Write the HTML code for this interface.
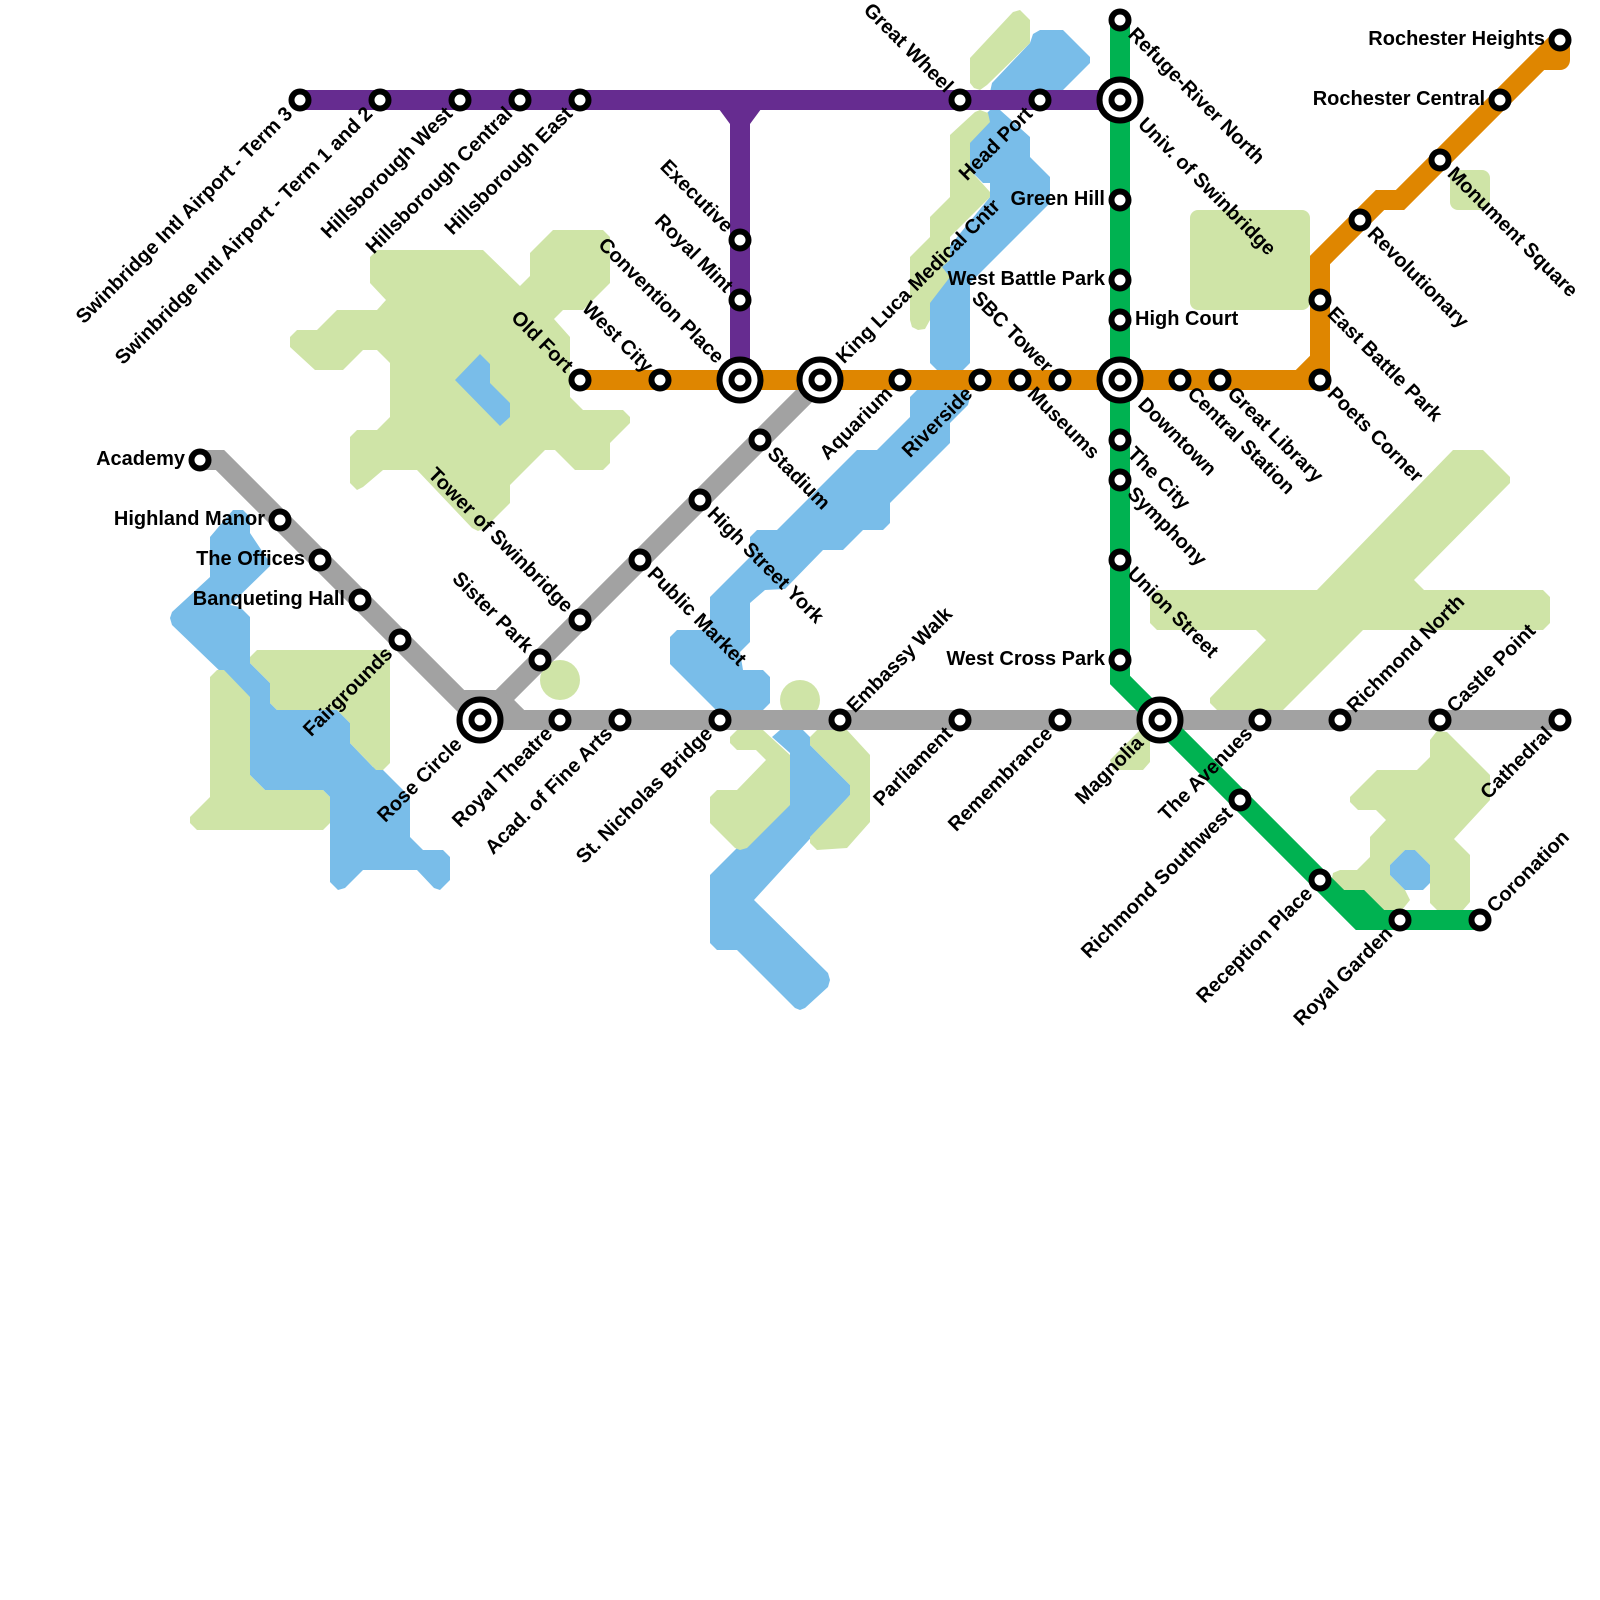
<!DOCTYPE html>
<html><head><meta charset="utf-8"><title>Swinbridge Metro Map</title>
<style>
html,body{margin:0;padding:0;background:#fff}
svg{display:block}
.p{fill:#cfe4a7}.w{fill:#79bde9}
.l{fill:none;stroke-width:20;stroke-linejoin:miter}
.s{fill:#fff;stroke:#000;stroke-width:6}
text{font-family:"Liberation Sans",sans-serif;font-weight:bold;font-size:20px;fill:#000}
.e{text-anchor:end}
</style></head><body>
<svg xmlns="http://www.w3.org/2000/svg" width="1600" height="1600" viewBox="0 0 1600 1600">
<rect width="1600" height="1600" fill="#fff"/>
<!-- water -->
<polygon class="w" points="233,510 243,510 250,517 250,533 270,563 270,566 230,605 240,607 250,617 250,663 270,683 270,703 277,710 337,710 350,723 350,743 373,767 383,770 410,797 410,837 423,850 443,850 450,857 450,880 440,890 434,888 417,870 363,870 345,888 338,890 330,882 330,797 323,790 265,790 250,775 250,700 172,625 170,618 172,612 210,577 210,537"/>
<polygon class="w" points="917,390 967,390 970,397 968,405 950,423 950,443 890,503 890,523 883,530 863,530 843,550 823,550 785,589 765,590 750,603 750,642 740,652 743,670 763,670 770,677 770,703 763,710 716,710 670,664 670,637 677,630 710,630 710,597 750,557 750,537 757,530 777,530 857,450 877,450 910,417 910,397"/>
<polygon class="w" points="772,737 780,730 803,730 810,737 810,745 850,785 850,795 754,900 828,973 830,980 828,987 805,1008 800,1010 795,1008 737,950 717,950 710,943 710,875 790,795 790,753"/>
<polygon class="w" points="992,83 1030,43 1033,34 1040,30 1063,30 1090,57 1090,63 1063,90 1060,100 997,100 990,92"/>
<polygon class="w" points="990,110 1000,110 1030,137 1030,157 1050,177 1050,203 970,283 970,363 963,370 937,370 930,363 930,270 990,197 990,183 983,183 970,170 970,130"/>
<!-- parks -->
<polygon class="p" points="377,250 483,250 520,286 530,276 530,253 553,230 603,230 610,237 610,283 583,310 563,310 554,319 570,337 570,397 583,410 623,410 630,417 630,423 610,443 610,463 603,470 575,470 555,450 545,450 510,485 510,503 485,528 478,531 472,528 417,470 383,470 363,487 357,490 350,483 350,437 357,430 377,430 390,417 390,363 377,350 363,350 343,370 315,370 290,347 290,337 297,330 317,330 337,310 377,310 386,300 370,283 370,257"/>
<polygon class="p" points="210,677 217,670 224,670 250,697 250,775 265,790 323,790 330,797 330,823 323,830 197,830 190,823 190,817 210,797"/>
<polygon class="p" points="250,657 257,650 390,650 390,763 383,770 376,770 350,743 350,723 337,710 277,710 270,703 270,683 250,663"/>
<circle class="p" cx="560" cy="680" r="20"/>
<circle class="p" cx="800" cy="700" r="20"/>
<polygon class="p" points="737,730 763,730 790,755 790,805 747,848 740,850 735,848 710,823 710,797 717,790 737,790 766,760 756,750 737,750 730,743 730,737"/>
<polygon class="p" points="810,737 817,730 847,730 870,755 870,822 847,848 817,850 810,843 810,837 850,795 850,785 810,745"/>
<polygon class="p" points="970,58 1013,12 1020,10 1030,20 1030,43 987,85 980,90 974,88 970,83"/>
<polygon class="p" points="950,135 975,112 980,110 988,113 990,122 970,143 970,170 990,192 990,197 950,237 950,260 942,267 950,277 930,303 930,320 925,329 918,330 912,327 910,320 910,257 930,237 930,217 950,197"/>
<rect class="p" x="1190" y="210" width="120" height="100" rx="8"/>
<rect class="p" x="1450" y="170" width="40" height="40" rx="8"/>
<polygon class="p" points="1150,597 1157,590 1317,590 1453,450 1483,450 1510,477 1510,483 1414,580 1424,590 1543,590 1550,597 1550,623 1543,630 1363,630 1273,720 1217,710 1210,703 1210,698 1266,640 1256,630 1157,630 1150,623"/>
<polygon class="p" points="1110,760 1140,730 1150,730 1150,762 1143,770 1113,770"/>
<polygon class="p" points="1430,740 1437,731 1447,732 1490,775 1490,800 1454,839 1470,855 1470,902 1463,910 1437,910 1430,903 1430,865 1415,850 1405,850 1390,865 1390,875 1405,890 1410,900 1402,910 1383,910 1363,890 1343,890 1332,878 1333,873 1340,870 1357,870 1370,857 1370,837 1386,820 1376,810 1358,810 1350,802 1350,797 1377,770 1417,770 1430,757"/>
<!-- lakes -->
<polygon class="w" points="455,380 480,354 490,364 490,383 510,403 510,417 500,426"/>
<polygon class="w" points="1390,865 1405,850 1415,850 1430,865 1430,883 1423,890 1405,890 1390,875"/>
<!-- lines -->
<g class="l" stroke="#a2a2a2">
<polyline class="l" points="200,460 220,460 480,720 1560,720"/>
<polyline class="l" points="820,380 500,700 460,700"/>
<polyline class="l" points="500,700 520,720"/>
</g>
<g stroke="#00b251">
<polyline class="l" points="1120,20 1120,680 1160,720 1360,920 1480,920"/>
<polyline class="l" points="1340,900 1360,900 1380,920"/>
</g>
<polyline class="l" stroke="#662c90" points="300,100 1120,100"/>
<polyline class="l" stroke="#662c90" points="740,100 740,380"/>
<polygon fill="#662c90" points="716,105 764,105 750,124 730,124"/>
<g stroke="#df8600">
<polyline class="l" points="580,380 1320,380 1320,350"/>
<polyline class="l" points="1300,380 1320,360 1320,260 1380,200 1400,200 1560,40"/>
<polyline class="l" style="stroke-linejoin:round" points="1540,60 1560,60 1560,40"/>
</g>
<!-- stations -->
<g>
<circle class="s" cx="300" cy="100" r="8.5"/><circle class="s" cx="380" cy="100" r="8.5"/><circle class="s" cx="460" cy="100" r="8.5"/><circle class="s" cx="520" cy="100" r="8.5"/><circle class="s" cx="580" cy="100" r="8.5"/><circle class="s" cx="960" cy="100" r="8.5"/><circle class="s" cx="1040" cy="100" r="8.5"/>
<circle class="s" cx="740" cy="240" r="8.5"/><circle class="s" cx="740" cy="300" r="8.5"/>
<circle class="s" cx="580" cy="380" r="8.5"/><circle class="s" cx="660" cy="380" r="8.5"/><circle class="s" cx="900" cy="380" r="8.5"/><circle class="s" cx="980" cy="380" r="8.5"/><circle class="s" cx="1020" cy="380" r="8.5"/><circle class="s" cx="1060" cy="380" r="8.5"/><circle class="s" cx="1180" cy="380" r="8.5"/><circle class="s" cx="1220" cy="380" r="8.5"/><circle class="s" cx="1320" cy="380" r="8.5"/><circle class="s" cx="1320" cy="300" r="8.5"/><circle class="s" cx="1360" cy="220" r="8.5"/><circle class="s" cx="1440" cy="160" r="8.5"/><circle class="s" cx="1500" cy="100" r="8.5"/><circle class="s" cx="1560" cy="40" r="8.5"/>
<circle class="s" cx="1120" cy="20" r="8.5"/><circle class="s" cx="1120" cy="200" r="8.5"/><circle class="s" cx="1120" cy="280" r="8.5"/><circle class="s" cx="1120" cy="320" r="8.5"/><circle class="s" cx="1120" cy="440" r="8.5"/><circle class="s" cx="1120" cy="480" r="8.5"/><circle class="s" cx="1120" cy="560" r="8.5"/><circle class="s" cx="1120" cy="660" r="8.5"/>
<circle class="s" cx="1240" cy="800" r="8.5"/><circle class="s" cx="1320" cy="880" r="8.5"/><circle class="s" cx="1400" cy="920" r="8.5"/><circle class="s" cx="1480" cy="920" r="8.5"/>
<circle class="s" cx="200" cy="460" r="8.5"/><circle class="s" cx="280" cy="520" r="8.5"/><circle class="s" cx="320" cy="560" r="8.5"/><circle class="s" cx="360" cy="600" r="8.5"/><circle class="s" cx="400" cy="640" r="8.5"/>
<circle class="s" cx="760" cy="440" r="8.5"/><circle class="s" cx="700" cy="500" r="8.5"/><circle class="s" cx="640" cy="560" r="8.5"/><circle class="s" cx="580" cy="620" r="8.5"/><circle class="s" cx="540" cy="660" r="8.5"/>
<circle class="s" cx="560" cy="720" r="8.5"/><circle class="s" cx="620" cy="720" r="8.5"/><circle class="s" cx="720" cy="720" r="8.5"/><circle class="s" cx="840" cy="720" r="8.5"/><circle class="s" cx="960" cy="720" r="8.5"/><circle class="s" cx="1060" cy="720" r="8.5"/><circle class="s" cx="1260" cy="720" r="8.5"/><circle class="s" cx="1340" cy="720" r="8.5"/><circle class="s" cx="1440" cy="720" r="8.5"/><circle class="s" cx="1560" cy="720" r="8.5"/>
<!-- hubs -->
<circle class="s" cx="740" cy="380" r="20.5"/><circle class="s" cx="740" cy="380" r="8.5"/>
<circle class="s" cx="820" cy="380" r="20.5"/><circle class="s" cx="820" cy="380" r="8.5"/>
<circle class="s" cx="480" cy="720" r="20.5"/><circle class="s" cx="480" cy="720" r="8.5"/>
<circle class="s" cx="1120" cy="100" r="20.5"/><circle class="s" cx="1120" cy="100" r="8.5"/>
<circle class="s" cx="1120" cy="380" r="20.5"/><circle class="s" cx="1120" cy="380" r="8.5"/>
<circle class="s" cx="1160" cy="720" r="20.5"/><circle class="s" cx="1160" cy="720" r="8.5"/>
</g>
<!-- labels -->
<g>
<text class="e" transform="translate(300,100) rotate(-45)" x="-15" y="6">Swinbridge Intl Airport - Term 3</text>
<text class="e" transform="translate(380,100) rotate(-45)" x="-15" y="6">Swinbridge Intl Airport - Term 1 and 2</text>
<text class="e" transform="translate(460,100) rotate(-45)" x="-15" y="6">Hillsborough West</text>
<text class="e" transform="translate(520,100) rotate(-45)" x="-15" y="6">Hillsborough Central</text>
<text class="e" transform="translate(580,100) rotate(-45)" x="-15" y="6">Hillsborough East</text>
<text class="e" transform="translate(960,100) rotate(45)" x="-15" y="6">Great Wheel</text>
<text class="e" transform="translate(1040,100) rotate(-45)" x="-15" y="6">Head Port</text>
<text transform="translate(1120,100) rotate(45)" x="30" y="6">Univ. of Swinbridge</text>
<text transform="translate(1120,20) rotate(45)" x="16" y="6">Refuge-River North</text>
<text class="e" transform="translate(740,240) rotate(45)" x="-15" y="6">Executive</text>
<text class="e" transform="translate(740,300) rotate(45)" x="-15" y="6">Royal Mint</text>
<text class="e" transform="translate(740,380) rotate(45)" x="-28" y="6">Convention Place</text>
<text class="e" transform="translate(580,380) rotate(45)" x="-15" y="6">Old Fort</text>
<text class="e" transform="translate(660,380) rotate(45)" x="-15" y="6">West City</text>
<text transform="translate(820,380) rotate(-45)" x="28" y="6">King Luca Medical Cntr</text>
<text class="e" transform="translate(900,380) rotate(-45)" x="-15" y="6">Aquarium</text>
<text class="e" transform="translate(980,380) rotate(-45)" x="-15" y="6">Riverside</text>
<text transform="translate(1020,380) rotate(45)" x="15" y="6">Museums</text>
<text class="e" transform="translate(1060,380) rotate(45)" x="-15" y="6">SBC Tower</text>
<text transform="translate(1120,380) rotate(45)" x="30" y="6">Downtown</text>
<text transform="translate(1180,380) rotate(45)" x="15" y="6">Central Station</text>
<text transform="translate(1220,380) rotate(45)" x="15" y="6">Great Library</text>
<text transform="translate(1320,380) rotate(45)" x="15" y="6">Poets Corner</text>
<text transform="translate(1320,300) rotate(45)" x="15" y="6">East Battle Park</text>
<text transform="translate(1360,220) rotate(45)" x="15" y="6">Revolutionary</text>
<text transform="translate(1440,160) rotate(45)" x="15" y="6">Monument Square</text>
<text class="e" x="1485" y="105">Rochester Central</text>
<text class="e" x="1545" y="45">Rochester Heights</text>
<text class="e" x="1105" y="205">Green Hill</text>
<text class="e" x="1105" y="285">West Battle Park</text>
<text x="1135" y="325">High Court</text>
<text transform="translate(1120,440) rotate(45)" x="15" y="6">The City</text>
<text transform="translate(1120,480) rotate(45)" x="15" y="6">Symphony</text>
<text transform="translate(1120,560) rotate(45)" x="15" y="6">Union Street</text>
<text class="e" x="1105" y="665">West Cross Park</text>
<text class="e" transform="translate(1160,720) rotate(-45)" x="-28" y="6">Magnolia</text>
<text class="e" transform="translate(1260,720) rotate(-45)" x="-15" y="6">The Avenues</text>
<text transform="translate(1340,720) rotate(-45)" x="15" y="6">Richmond North</text>
<text transform="translate(1440,720) rotate(-45)" x="15" y="6">Castle Point</text>
<text class="e" transform="translate(1560,720) rotate(-45)" x="-15" y="6">Cathedral</text>
<text class="e" transform="translate(1240,800) rotate(-45)" x="-15" y="6">Richmond Southwest</text>
<text class="e" transform="translate(1320,880) rotate(-45)" x="-15" y="6">Reception Place</text>
<text class="e" transform="translate(1400,920) rotate(-45)" x="-15" y="6">Royal Garden</text>
<text transform="translate(1480,920) rotate(-45)" x="15" y="6">Coronation</text>
<text class="e" x="185" y="465">Academy</text>
<text class="e" x="265" y="525">Highland Manor</text>
<text class="e" x="305" y="565">The Offices</text>
<text class="e" x="345" y="605">Banqueting Hall</text>
<text class="e" transform="translate(400,640) rotate(-45)" x="-15" y="6">Fairgrounds</text>
<text class="e" transform="translate(480,720) rotate(-45)" x="-30" y="6">Rose Circle</text>
<text class="e" transform="translate(560,720) rotate(-45)" x="-15" y="6">Royal Theatre</text>
<text class="e" transform="translate(620,720) rotate(-45)" x="-15" y="6">Acad. of Fine Arts</text>
<text class="e" transform="translate(720,720) rotate(-45)" x="-15" y="6">St. Nicholas Bridge</text>
<text transform="translate(840,720) rotate(-45)" x="15" y="6">Embassy Walk</text>
<text class="e" transform="translate(960,720) rotate(-45)" x="-15" y="6">Parliament</text>
<text class="e" transform="translate(1060,720) rotate(-45)" x="-15" y="6">Remembrance</text>
<text transform="translate(760,440) rotate(45)" x="15" y="6">Stadium</text>
<text transform="translate(700,500) rotate(45)" x="15" y="6">High Street York</text>
<text transform="translate(640,560) rotate(45)" x="15" y="6">Public Market</text>
<text class="e" transform="translate(580,620) rotate(45)" x="-15" y="6">Tower of Swinbridge</text>
<text class="e" transform="translate(540,660) rotate(45)" x="-15" y="6">Sister Park</text>
</g>
</svg>
</body></html>
